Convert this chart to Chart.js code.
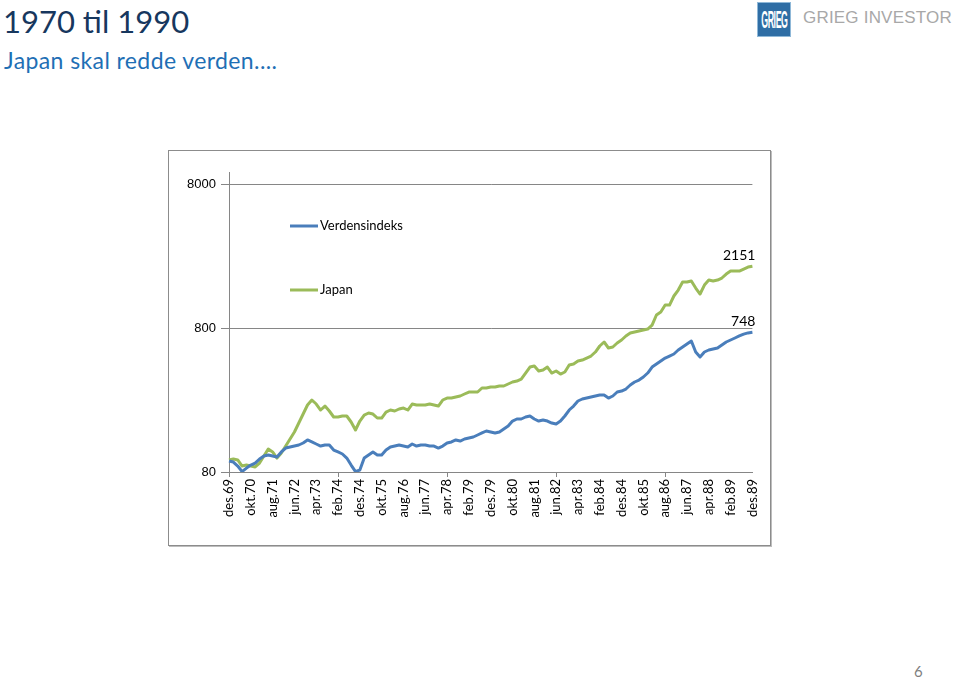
<!DOCTYPE html>
<html>
<head>
<meta charset="utf-8">
<script src="https://cdn.jsdelivr.net/npm/chart.js@4/dist/chart.umd.min.js"></script>
<style>
  body { margin: 0; width: 960px; height: 679px; background: #fff; position: relative; overflow: hidden; font-family: Lato, "Noto Sans", sans-serif; }
  #title { position: absolute; left: 3px; top: 1px; font-size: 31px; color: #17375e; line-height: 40px; white-space: nowrap; }
  #subtitle { position: absolute; left: 4px; top: 46px; font-size: 23px; color: #1f6fb5; line-height: 28px; letter-spacing: 0.4px; white-space: nowrap; }
  #logoBox { position: absolute; left: 757px; top: 2px; width: 32px; height: 33px; background: #2f6ea5; border: 1px solid #8fb8d8; overflow: hidden; }
  #logoBox span { position: absolute; left: 0; top: 10px; width: 32px; text-align: center; color: #fff; font: bold 11px "Liberation Sans Narrow", "Liberation Sans", sans-serif; transform: scale(0.8, 2.2); letter-spacing: -0.5px; }
  #logoText { position: absolute; left: 803px; top: 8px; font: 17px "Liberation Sans", sans-serif; color: #a8a8a8; white-space: nowrap; letter-spacing: 0.2px; }
  #page { position: absolute; left: 914px; top: 662px; font-size: 15px; color: #7f7f7f; }
  #frame { position: absolute; left: 168px; top: 150px; width: 601px; height: 394px; border: 1px solid #8c8c8c; box-shadow: 1px 1px 0 #bdbdbd; }
  #frame canvas { display: block; }
</style>
</head>
<body>
<div id="title">1970 til 1990</div>
<div id="subtitle">Japan skal redde verden....</div>
<div id="logoBox"><span>GRIEG</span></div>
<div id="logoText">GRIEG INVESTOR</div>
<div id="page">6</div>
<div id="frame"><canvas id="chart" width="601" height="394"></canvas></div>

<script>
// 2-monthly points, des.69 - des.89
const months = [
  'des.69',
  'feb.70','apr.70','jun.70','aug.70','okt.70','des.70',
  'feb.71','apr.71','jun.71','aug.71','okt.71','des.71',
  'feb.72','apr.72','jun.72','aug.72','okt.72','des.72',
  'feb.73','apr.73','jun.73','aug.73','okt.73','des.73',
  'feb.74','apr.74','jun.74','aug.74','okt.74','des.74',
  'feb.75','apr.75','jun.75','aug.75','okt.75','des.75',
  'feb.76','apr.76','jun.76','aug.76','okt.76','des.76',
  'feb.77','apr.77','jun.77','aug.77','okt.77','des.77',
  'feb.78','apr.78','jun.78','aug.78','okt.78','des.78',
  'feb.79','apr.79','jun.79','aug.79','okt.79','des.79',
  'feb.80','apr.80','jun.80','aug.80','okt.80','des.80',
  'feb.81','apr.81','jun.81','aug.81','okt.81','des.81',
  'feb.82','apr.82','jun.82','aug.82','okt.82','des.82',
  'feb.83','apr.83','jun.83','aug.83','okt.83','des.83',
  'feb.84','apr.84','jun.84','aug.84','okt.84','des.84',
  'feb.85','apr.85','jun.85','aug.85','okt.85','des.85',
  'feb.86','apr.86','jun.86','aug.86','okt.86','des.86',
  'feb.87','apr.87','jun.87','aug.87','okt.87','des.87',
  'feb.88','apr.88','jun.88','aug.88','okt.88','des.88',
  'feb.89','apr.89','jun.89','aug.89','okt.89','des.89'
];

const verdensindeks = [
  95.3,
  93.8, 88.0, 80.5, 85.2, 89.4, 92.3,
  98.5, 103.3, 105.0, 103.3, 101.7, 110.2,
  117.4, 119.3, 121.2, 123.2, 127.2, 133.5,
  129.3, 125.2, 121.2, 123.2, 123.2, 113.7,
  110.2, 106.7, 100.0, 89.4, 80.5, 82.6,
  100.0, 105.0, 110.2, 105.0, 105.0, 113.7,
  119.3, 121.2, 123.2, 121.2, 119.3, 125.2,
  121.2, 123.2, 123.2, 121.2, 121.2, 117.4,
  121.2, 127.2, 129.3, 133.5, 131.3, 135.6,
  137.8, 140.0, 144.6, 149.3, 154.1, 151.7,
  149.3, 151.7, 159.1, 166.9, 180.8, 186.7,
  186.7, 192.8, 195.9, 186.7, 180.8, 183.7,
  180.8, 175.1, 172.4, 180.8, 195.9, 215.6,
  229.8, 249.0, 257.1, 261.2, 265.4, 269.7,
  274.0, 274.0, 261.2, 269.7, 287.5, 292.1,
  301.6, 321.6, 337.4, 348.3, 365.5, 389.6,
  428.8, 449.9, 472.0, 495.2, 511.3, 528.0,
  562.9, 590.5, 619.6, 650.1, 545.1, 503.2,
  545.1, 562.9, 571.9, 581.2, 609.8, 639.8,
  660.6, 682.1, 705.0, 725.0, 740.0, 748
];

const japan = [
  97.0,
  98.5, 97.0, 88.0, 89.4, 88.0, 86.7,
  92.3, 103.3, 115.6, 110.2, 100.0, 108.4,
  121.2, 135.6, 151.7, 175.1, 202.2, 233.5,
  253.0, 237.3, 215.6, 229.8, 212.2, 192.8,
  192.8, 195.9, 195.9, 178.0, 156.6, 180.8,
  199.0, 205.5, 202.2, 189.7, 189.7, 208.8,
  215.6, 212.2, 219.1, 222.6, 215.6, 237.3,
  233.5, 233.5, 233.5, 237.3, 233.5, 229.8,
  253.0, 261.2, 261.2, 265.4, 269.7, 278.5,
  287.5, 287.5, 287.5, 306.5, 306.5, 311.4,
  311.4, 316.5, 316.5, 326.8, 337.4, 342.8,
  353.9, 389.6, 428.8, 435.7, 402.3, 408.7,
  428.8, 389.6, 402.3, 383.4, 395.9, 442.8,
  449.9, 472.0, 479.6, 495.2, 511.3, 545.1,
  600.1, 639.8, 581.2, 590.5, 629.6, 660.6,
  704.3, 738.9, 750.9, 763.0, 774.8, 787.3,
  839.3, 984.9, 1033, 1155, 1155, 1335,
  1469, 1669, 1669, 1697, 1517, 1378,
  1591, 1723, 1697, 1723, 1780, 1897,
  1990, 1990, 1990, 2055, 2122, 2151
];

const yTicks = [80, 800, 8000];
const seriesNames = ['Verdensindeks', 'Japan'];
const seriesColors = ['#4a7ebb', '#9bbb59'];
const labelEvery = 5;

// legend drawn inside the plot, like the original
const insideLegend = {
  id: 'insideLegend',
  afterDraw(chart) {
    const ctx = chart.ctx;
    const left = chart.chartArea.left;
    const top = chart.chartArea.top;
    ctx.save();
    chart.data.datasets.forEach((ds, i) => {
      const y = top + 54 + i * 64;
      ctx.strokeStyle = ds.borderColor;
      ctx.lineWidth = 3;
      ctx.beginPath();
      ctx.moveTo(left + 61, y);
      ctx.lineTo(left + 89, y);
      ctx.stroke();
      ctx.fillStyle = '#000';
      ctx.font = '13px Lato';
      ctx.textBaseline = 'middle';
      ctx.fillText(ds.label, left + 91, y);
    });
    ctx.restore();
  }
};

// last value printed above the end of each line
const endLabels = {
  id: 'endLabels',
  afterDatasetsDraw(chart) {
    const ctx = chart.ctx;
    ctx.save();
    ctx.font = '14px Lato';
    ctx.fillStyle = '#000';
    ctx.textAlign = 'right';
    ctx.textBaseline = 'alphabetic';
    chart.data.datasets.forEach((ds, i) => {
      const pts = chart.getDatasetMeta(i).data;
      const last = pts[pts.length - 1];
      ctx.fillText(String(ds.data[ds.data.length - 1]), last.x + 3, last.y - 6);
    });
    ctx.restore();
  }
};

const ctx = document.getElementById('chart').getContext('2d');
new Chart(ctx, {
  type: 'line',
  data: {
    labels: months,
    datasets: [{
      label: seriesNames[0],
      data: verdensindeks,
      borderColor: seriesColors[0],
      backgroundColor: seriesColors[0],
      borderWidth: 3,
      pointRadius: 0,
      tension: 0,
      borderJoinStyle: 'round'
    }, {
      label: seriesNames[1],
      data: japan,
      borderColor: seriesColors[1],
      backgroundColor: seriesColors[1],
      borderWidth: 3,
      pointRadius: 0,
      tension: 0,
      borderJoinStyle: 'round'
    }]
  },
  options: {
    responsive: false,
    animation: false,
    layout: { padding: { top: 21, right: 5, left: 0, bottom: 0 } },
    plugins: {
      legend: { display: false },
      tooltip: { enabled: false }
    },
    scales: {
      x: {
        offset: false,
        afterFit: s => { s.height = 73; },
        border: { display: true, color: '#868686', width: 1 },
        grid: {
          drawOnChartArea: false,
          drawTicks: true,
          tickLength: 5,
          color: c => (c.index % labelEvery === 0 ? '#868686' : 'rgba(0,0,0,0)')
        },
        ticks: {
          autoSkip: false,
          maxRotation: 90,
          minRotation: 90,
          padding: 2,
          color: '#000',
          font: { family: 'Lato', size: 13 },
          callback: function (val, i) { return i % labelEvery === 0 ? this.getLabelForValue(val) : null; }
        }
      },
      y: {
        type: 'logarithmic',
        min: 80,
        max: 9700,
        afterFit: s => { s.width = 60; },
        afterBuildTicks: s => { s.ticks = yTicks.map(v => ({ value: v })); },
        border: { display: true, color: '#868686', width: 1 },
        grid: { color: '#868686', tickLength: 8, drawTicks: true },
        ticks: {
          padding: 5,
          color: '#000',
          font: { family: 'Liberation Sans', size: 13 },
          callback: v => String(v)
        }
      }
    }
  },
  plugins: [insideLegend, endLabels]
});
</script>
</body>
</html>
